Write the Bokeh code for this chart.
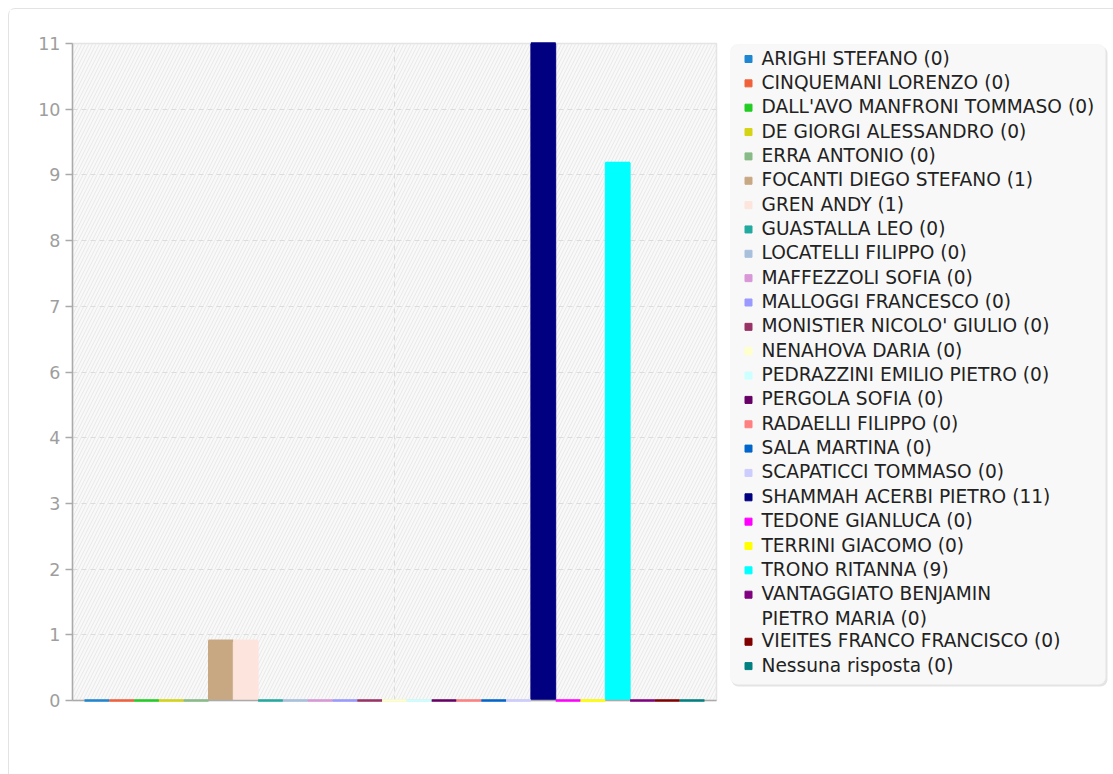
from bokeh.plotting import figure
from bokeh.models import Range1d, FixedTicker, BoxAnnotation
from bokeh.layouts import row
from bokeh.core.properties import value
from bokeh.embed import file_html
from bokeh.resources import INLINE

# ---------------- data ----------------
names = [
    "ARIGHI STEFANO", "CINQUEMANI LORENZO", "DALL'AVO MANFRONI TOMMASO",
    "DE GIORGI ALESSANDRO", "ERRA ANTONIO", "FOCANTI DIEGO STEFANO", "GREN ANDY",
    "GUASTALLA LEO", "LOCATELLI FILIPPO", "MAFFEZZOLI SOFIA", "MALLOGGI FRANCESCO",
    "MONISTIER NICOLO' GIULIO", "NENAHOVA DARIA", "PEDRAZZINI EMILIO PIETRO",
    "PERGOLA SOFIA", "RADAELLI FILIPPO", "SALA MARTINA", "SCAPATICCI TOMMASO",
    "SHAMMAH ACERBI PIETRO", "TEDONE GIANLUCA", "TERRINI GIACOMO", "TRONO RITANNA",
    "VANTAGGIATO BENJAMIN\nPIETRO MARIA", "VIEITES FRANCO FRANCISCO", "Nessuna risposta",
]
votes = [0, 0, 0, 0, 0, 1, 1, 0, 0, 0, 0, 0, 0, 0, 0, 0, 0, 0, 11, 0, 0, 9, 0, 0, 0]
colors = [
    "#1f86d2", "#f0603a", "#22cc22", "#d4d414", "#88bb88", "#c8a882", "#fde5dd",
    "#22aaa0", "#a8c0dc", "#d898d8", "#9999ff", "#993366", "#ffffcc", "#ccffff",
    "#660066", "#ff8080", "#0066cc", "#ccccff", "#000080", "#ff00ff", "#ffff00",
    "#00ffff", "#800080", "#800000", "#008080",
]
y_ticks = [0, 1.1, 2.2, 3.3, 4.4, 5.5, 6.6, 7.7, 8.8, 9.9, 11]
y_tick_labels = ["0", "1", "2", "3", "4", "6", "7", "8", "9", "10", "11"]

FONT = "DejaVu Sans"
idx = list(range(len(names)))
H = 765
B_TOP, B_BOTTOM = 34, 74

# ---------------- chart ----------------
p = figure(width=713, height=H, x_range=Range1d(-0.984, 24.984), y_range=Range1d(0, 11),
           output_backend="svg", toolbar_location=None,
           min_border_left=63, min_border_right=6, min_border_top=B_TOP, min_border_bottom=B_BOTTOM)
p.background_fill_color = "#f9f9f9"
p.border_fill_color = "white"
p.outline_line_color = "#e4e4e4"
p.outline_line_width = 1.5

hatch = BoxAnnotation(fill_alpha=0, line_alpha=0, hatch_pattern="/", hatch_color="#e8e8e8",
                      hatch_scale=7, hatch_weight=1, level="image")
p.add_layout(hatch)

p.ygrid.ticker = FixedTicker(ticks=y_ticks)
p.ygrid.grid_line_color = "#dcdcdc"
p.ygrid.grid_line_dash = "5 4"
p.xgrid.ticker = FixedTicker(ticks=[(len(names) - 1) / 2])
p.xgrid.grid_line_color = "#dcdcdc"
p.xgrid.grid_line_dash = "5 4"

p.yaxis.ticker = FixedTicker(ticks=y_ticks)
p.yaxis.major_label_overrides = {t: l for t, l in zip(y_ticks, y_tick_labels)}
p.yaxis.minor_tick_line_color = None
p.yaxis.axis_line_color = "#aaaaaa"
p.yaxis.axis_line_width = 1.5
p.yaxis.major_tick_line_color = "#aaaaaa"
p.yaxis.major_tick_line_width = 1.5
p.yaxis.major_tick_out = 7
p.yaxis.major_tick_in = 0
p.yaxis.major_label_text_font = FONT
p.yaxis.major_label_text_font_size = "17.5px"
p.yaxis.major_label_text_color = "#9e9e9e"
p.yaxis.major_label_standoff = 5

p.xaxis.ticker = FixedTicker(ticks=[])
p.xaxis.minor_tick_line_color = None
p.xaxis.major_tick_line_color = None
p.xaxis.axis_line_color = "#aaaaaa"
p.xaxis.axis_line_width = 1.5
p.xaxis.major_label_text_font_size = "0px"

p.vbar(x=idx, top=votes, bottom=0, width=1, fill_color=colors, line_color=colors, line_width=1)
# top edge of every bar (makes the zero-height bars visible as thin coloured lines)
p.segment(x0=[i - 0.5 for i in idx], x1=[i + 0.5 for i in idx], y0=votes, y1=votes,
          line_color=colors, line_width=2.5, level="overlay")

# ---------------- legend ----------------
lf = figure(width=391, height=H, x_range=Range1d(722, 1113), y_range=Range1d(700, 43),
            x_axis_type=None, y_axis_type=None, output_backend="svg", toolbar_location=None,
            min_border_left=0, min_border_right=0, min_border_top=B_TOP,
            min_border_bottom=B_BOTTOM, outline_line_color=None)
lf.border_fill_color = "white"
lf.background_fill_color = "white"
lf.xgrid.visible = False
lf.ygrid.visible = False

lf.add_layout(BoxAnnotation(left=731, right=1107, top=46, bottom=686, fill_color="#e4e4e4",
                            fill_alpha=1, line_alpha=0, border_radius=7, level="image"))
lf.add_layout(BoxAnnotation(left=730, right=1105, top=44, bottom=684, fill_color="#f8f8f8",
                            fill_alpha=1, line_color="#eeeeee", line_width=1, border_radius=7,
                            level="image"))

row_y = 57.5
sw_y, tx, ty = [], [], []
for name, v in zip(names, votes):
    lines = f"{name} ({v})".split("\n")
    sw_y.append(row_y + 1)
    for k, ln in enumerate(lines):
        tx.append(ln)
        ty.append(row_y + k * 25)
    row_y += 24.35 + (len(lines) - 1) * 22.7

lf.scatter(x=[748] * len(sw_y), y=sw_y, marker="square", size=7, fill_color=colors, line_color=colors)
lf.text(x=[761] * len(tx), y=ty, text=tx, text_font=value(FONT), text_font_size="18.6px",
        text_color="#222222", text_baseline="middle", text_align="left")

layout = row(p, lf, styles={"border-left": "1px solid #e3e3e3", "border-top": "1px solid #e3e3e3",
                            "border-top-left-radius": "7px",
                            "margin-left": "8px", "margin-top": "8px"})

open("out.html", "w").write(file_html(layout, INLINE))
